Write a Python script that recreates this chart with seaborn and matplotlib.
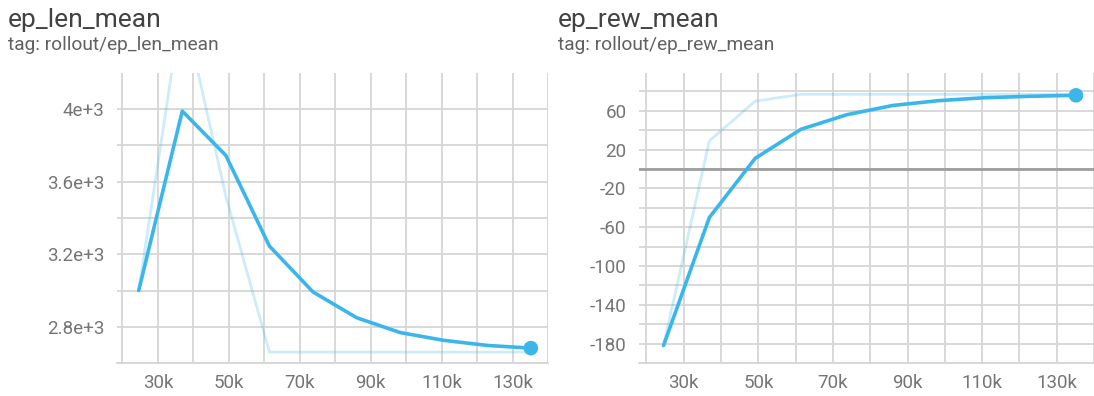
import matplotlib
matplotlib.use("Agg")
import matplotlib.pyplot as plt
import seaborn as sns
import pandas as pd
import numpy as np

# ---------------- data ----------------
steps = [24576, 36864, 49152, 61440, 73728, 86016, 98304, 110592, 122880, 135168]

len_raw = [3000, 4590, 3520, 2660, 2660, 2660, 2660, 2660, 2660, 2660]
len_smooth = [3000, 3990, 3745, 3245, 2992, 2850, 2768, 2725, 2697, 2682]

rew_raw = [-182, 29, 70, 77, 77, 77, 77, 77, 77, 77]
rew_smooth = [-182, -50, 11, 41, 56, 65.5, 70.5, 73.5, 75, 76]

titles = ["ep_len_mean", "ep_rew_mean"]
subtitles = ["tag: rollout/ep_len_mean", "tag: rollout/ep_rew_mean"]

x_label_ticks = [30000, 50000, 70000, 90000, 110000, 130000]
x_label_text = ["30k", "50k", "70k", "90k", "110k", "130k"]
x_grid_ticks = [20000, 40000, 60000, 80000, 100000, 120000, 140000]

len_label_ticks = [2800, 3200, 3600, 4000]
len_label_text = ["2.8e+3", "3.2e+3", "3.6e+3", "4e+3"]
len_grid_ticks = [2600, 3000, 3400, 3800]

rew_label_ticks = [-180, -140, -100, -60, -20, 20, 60]
rew_label_text = ["-180", "-140", "-100", "-60", "-20", "20", "60"]
rew_grid_ticks = [-200, -160, -120, -80, -40, 0, 40, 80]

# ---------------- style ----------------
sns.set_theme(style="white")
plt.rcParams["font.family"] = ["Roboto", "DejaVu Sans"]

LINE = "#3bb6ea"
GRID = "#d6d6d6"
TICK = "#757575"

W, H = 1094, 396
fig = plt.figure(figsize=(W / 100, H / 100), dpi=100)
ax1 = fig.add_axes([117 / W, 33 / H, 431 / W, 290 / H])
ax2 = fig.add_axes([639 / W, 33 / H, 455 / W, 290 / H])

df_len = pd.DataFrame({"step": steps, "raw": len_raw, "smooth": len_smooth})
df_rew = pd.DataFrame({"step": steps, "raw": rew_raw, "smooth": rew_smooth})


def style_axis(ax, xlim, ylim, ylab_ticks, ylab_text, ygrid):
    ax.set_xlim(*xlim)
    ax.set_ylim(*ylim)
    ax.set_xticks(x_label_ticks)
    ax.set_xticklabels(x_label_text)
    ax.set_xticks(x_grid_ticks, minor=True)
    ax.set_yticks(ylab_ticks)
    ax.set_yticklabels(ylab_text)
    ax.set_yticks(ygrid, minor=True)
    ax.grid(False)
    ax.grid(which="both", axis="both", color=GRID, lw=1.3)
    for s in ["top", "right", "left"]:
        ax.spines[s].set_visible(False)
    ax.spines["bottom"].set_color(GRID)
    ax.spines["bottom"].set_linewidth(1.3)
    ax.tick_params(axis="x", which="both", length=6, width=1.3, color=GRID,
                   labelsize=13.5, labelcolor=TICK, pad=2)
    ax.tick_params(axis="y", which="both", length=0, labelsize=13.5,
                   labelcolor=TICK, pad=9)
    ax.set_xlabel("")
    ax.set_ylabel("")


for ax, df in [(ax1, df_len), (ax2, df_rew)]:
    sns.lineplot(data=df, x="step", y="raw", ax=ax, color=LINE, alpha=0.25,
                 lw=2.0, zorder=3)
    sns.lineplot(data=df, x="step", y="smooth", ax=ax, color=LINE, lw=2.6,
                 zorder=4)
    last = df.iloc[[-1]]
    sns.scatterplot(data=last, x="step", y="smooth", ax=ax, color=LINE, s=110,
                    edgecolor="none", zorder=5, clip_on=False)

style_axis(ax1, (18450, 139900), (2600, 4200), len_label_ticks, len_label_text,
           len_grid_ticks)
style_axis(ax2, (18000, 136500), (-200, 99), rew_label_ticks, rew_label_text,
           rew_grid_ticks)
ax2.axhline(0, color="#9e9e9e", lw=2.0, zorder=2)

for x0, t, st in [(8, titles[0], subtitles[0]), (558, titles[1], subtitles[1])]:
    fig.text(x0 / W, 1 - 27 / H, t, fontsize=19, color="#424242",
             va="baseline", ha="left")
    fig.text(x0 / W, 1 - 50 / H, st, fontsize=13.8, color="#616161",
             va="baseline", ha="left")

fig.savefig("out.png", dpi=100)
